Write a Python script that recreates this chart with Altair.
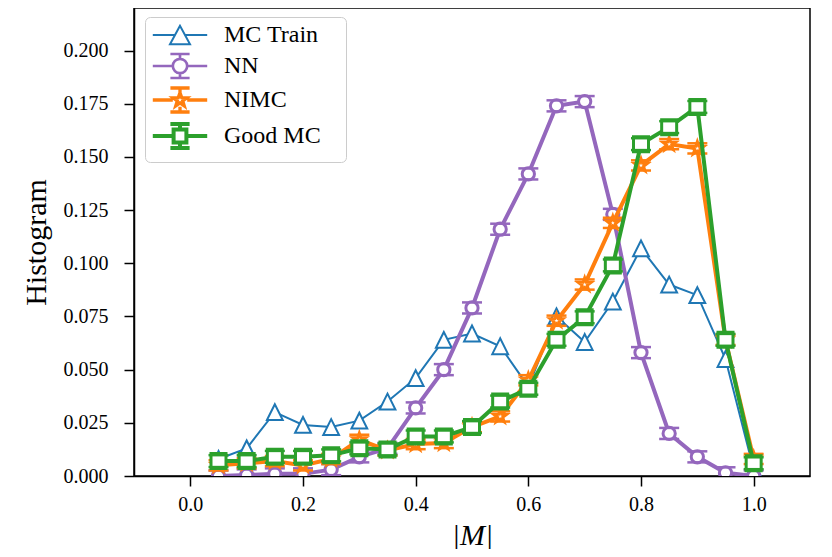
import math
import altair as alt
import pandas as pd

# ---------------- data ----------------
bins = [0.05, 0.10, 0.15, 0.20, 0.25, 0.30, 0.35, 0.40, 0.45, 0.50,
        0.55, 0.60, 0.65, 0.70, 0.75, 0.80, 0.85, 0.90, 0.95, 1.00]

mc_train = [0.008, 0.013, 0.030, 0.024, 0.023, 0.026, 0.035, 0.046, 0.064, 0.067,
            0.061, 0.042, 0.075, 0.063, 0.082, 0.107, 0.090, 0.085, 0.055, 0.003]

nn = [0.000, 0.0005, 0.001, 0.001, 0.003, 0.009, 0.013, 0.032, 0.050, 0.079,
      0.116, 0.142, 0.174, 0.176, 0.123, 0.058, 0.020, 0.009, 0.0015, 0.000]
nn_err = [0.0026, 0.0026, 0.0026, 0.0026, 0.0026, 0.0026, 0.0026, 0.0026, 0.0026, 0.0026,
          0.0026, 0.0026, 0.0026, 0.0026, 0.0026, 0.0026, 0.0026, 0.0026, 0.0026, 0.0026]

nimc = [0.005, 0.006, 0.007, 0.005, 0.008, 0.017, 0.012, 0.015, 0.0155, 0.023,
        0.028, 0.045, 0.073, 0.090, 0.119, 0.146, 0.156, 0.154, 0.064, 0.008]
nimc_err = [0.0024, 0.0024, 0.0024, 0.0024, 0.0024, 0.0024, 0.0024, 0.0024, 0.0024, 0.0024,
            0.0024, 0.0024, 0.0024, 0.0024, 0.0024, 0.0024, 0.0024, 0.0024, 0.0024, 0.0024]

good_mc = [0.007, 0.007, 0.009, 0.009, 0.0097, 0.013, 0.0125, 0.0186, 0.0186, 0.023,
           0.035, 0.041, 0.064, 0.0746, 0.099, 0.156, 0.164, 0.1735, 0.064, 0.006]
good_err = [0.0028, 0.0028, 0.0028, 0.0028, 0.0028, 0.0028, 0.0028, 0.0028, 0.0028, 0.0028,
            0.0028, 0.0028, 0.0028, 0.0028, 0.0028, 0.0028, 0.0028, 0.0028, 0.0028, 0.0028]

names = ["MC Train", "NN", "NIMC", "Good MC"]
colors = ["#1f77b4", "#9467bd", "#ff7f0e", "#2ca02c"]

x_ticks = [0.0, 0.2, 0.4, 0.6, 0.8, 1.0]
y_ticks = [0.0, 0.025, 0.05, 0.075, 0.1, 0.125, 0.15, 0.175, 0.2]

# ---------------- table ----------------
rows = []
for name, vals, errs in [("MC Train", mc_train, None), ("NN", nn, nn_err),
                         ("NIMC", nimc, nimc_err), ("Good MC", good_mc, good_err)]:
    for i, (b, v) in enumerate(zip(bins, vals)):
        e = errs[i] if errs else 0.0
        rows.append({"series": name, "m": b, "v": v, "lo": v - e, "hi": v + e})
df = pd.DataFrame(rows)

# ---------------- marker shapes ----------------
def star(scale=1.0, inner=0.4):
    pts = []
    for k in range(10):
        a = -math.pi / 2 + k * math.pi / 5
        r = scale if k % 2 == 0 else scale * inner
        pts.append(f"{r*math.cos(a):.3f},{r*math.sin(a):.3f}")
    return "M" + " L".join(pts) + " Z"

tri_path = "M0,-1 L-1,1 L1,1 Z"
star_path = star(1.0)

# legend glyphs: line stub + marker (+ error caps); every glyph gets the same extent
extent = "M-3.4,-1.5 M19,1.5 "
stub = "M-3.4,0 L-0.9,0 M0.9,0 L3.4,0 "
caps = "M-1.2,-1.5 L1.2,-1.5 M-1.2,1.5 L1.2,1.5 M0,-1.5 L0,-0.85 M0,0.85 L0,1.5 "
leg_tri = extent + "M-3.4,0 L-0.6,0 M0.6,0 L3.4,0 M0,-1.15 L-1.25,1.15 L1.25,1.15 Z"
leg_circle = extent + stub + caps + "M0.9,0 A0.9,0.9 0 1,1 -0.9,0 A0.9,0.9 0 1,1 0.9,0 Z"
leg_star = extent + stub + caps + star(0.9)
leg_square = extent + stub + caps + "M-0.8,-0.8 L0.8,-0.8 L0.8,0.8 L-0.8,0.8 Z"

FONT = "Liberation Serif"

xscale = alt.Scale(domain=[-0.1, 1.1], nice=False, zero=False)
yscale = alt.Scale(domain=[0, 0.22], nice=False, zero=False)

xenc = alt.X("m:Q", scale=xscale,
             axis=alt.Axis(values=x_ticks, format=".1f", title="|M|",
                           titleFontStyle="italic", titleFontWeight="normal",
                           titleFontSize=30, titlePadding=6, labelPadding=8))
yenc = alt.Y("v:Q", scale=yscale,
             axis=alt.Axis(values=y_ticks, format=".3f", title="Histogram",
                           titleFontWeight="normal", titleFontSize=30,
                           titlePadding=12, labelPadding=16))

base = alt.Chart(df)
layers = []
specs = [
    ("MC Train", colors[0], tri_path, 250, 2, 2, False),
    ("NN", colors[1], "circle", 150, 4, 3, True),
    ("NIMC", colors[2], star_path, 180, 4, 3, True),
    ("Good MC", colors[3], "square", 225, 4, 3, True),
]
for name, col, shape, size, lw, mw, has_err in specs:
    sub = base.transform_filter(alt.datum.series == name)
    layers.append(sub.mark_line(color=col, strokeWidth=lw, clip=True).encode(x=xenc, y=yenc))
    if has_err:
        layers.append(sub.mark_rule(color=col, strokeWidth=2.5, clip=True).encode(
            x="m:Q", y="lo:Q", y2="hi:Q"))
    layers.append(sub.mark_point(shape=shape, size=size, filled=True, fill="white",
                                 stroke=col, strokeWidth=mw, opacity=1, clip=True).encode(
        x="m:Q", y="v:Q"))
    if has_err:
        for fld in ["lo", "hi"]:
            layers.append(sub.mark_tick(orient="horizontal", size=20, thickness=2.5,
                                        color=col, opacity=1, clip=True).encode(
                x="m:Q", y=alt.Y(f"{fld}:Q")))

leg = alt.Legend(title=None, orient="none", legendX=11, legendY=9,
                 labelFont=FONT, labelFontSize=24, labelColor="black",
                 symbolSize=256, symbolOffset=17, labelOffset=32,
                 rowPadding=-3, padding=6, symbolFillColor="white",
                 fillColor="rgba(255,255,255,0.8)", strokeColor="#cccccc",
                 cornerRadius=5)

legend_layer = base.transform_filter(alt.datum.v < -1).mark_point(
    filled=False, fill="white", opacity=1).encode(
    x="m:Q", y="v:Q",
    color=alt.Color("series:N", scale=alt.Scale(domain=names, range=colors), legend=leg),
    shape=alt.Shape("series:N", scale=alt.Scale(domain=names,
                    range=[leg_tri, leg_circle, leg_star, leg_square]), legend=leg),
    strokeWidth=alt.StrokeWidth("series:N", scale=alt.Scale(domain=names,
                    range=[2, 4, 4, 4]), legend=leg),
)
layers.append(legend_layer)

chart = alt.layer(*layers).properties(
    width=676, height=468,
    autosize=alt.AutoSizeParams(type="none"),
    padding={"left": 126, "top": 0, "right": 14, "bottom": 73},
).configure_view(stroke="black", strokeWidth=1.5).configure_axis(
    labelFont=FONT, titleFont=FONT, labelFontSize=20, labelColor="black",
    titleColor="black", grid=False, domainColor="black", domainWidth=1.5,
    tickColor="black", tickWidth=1.5, tickSize=10,
).configure_legend(labelFont=FONT)

chart.save("out.html", embed_options={"renderer": "svg", "actions": False})
